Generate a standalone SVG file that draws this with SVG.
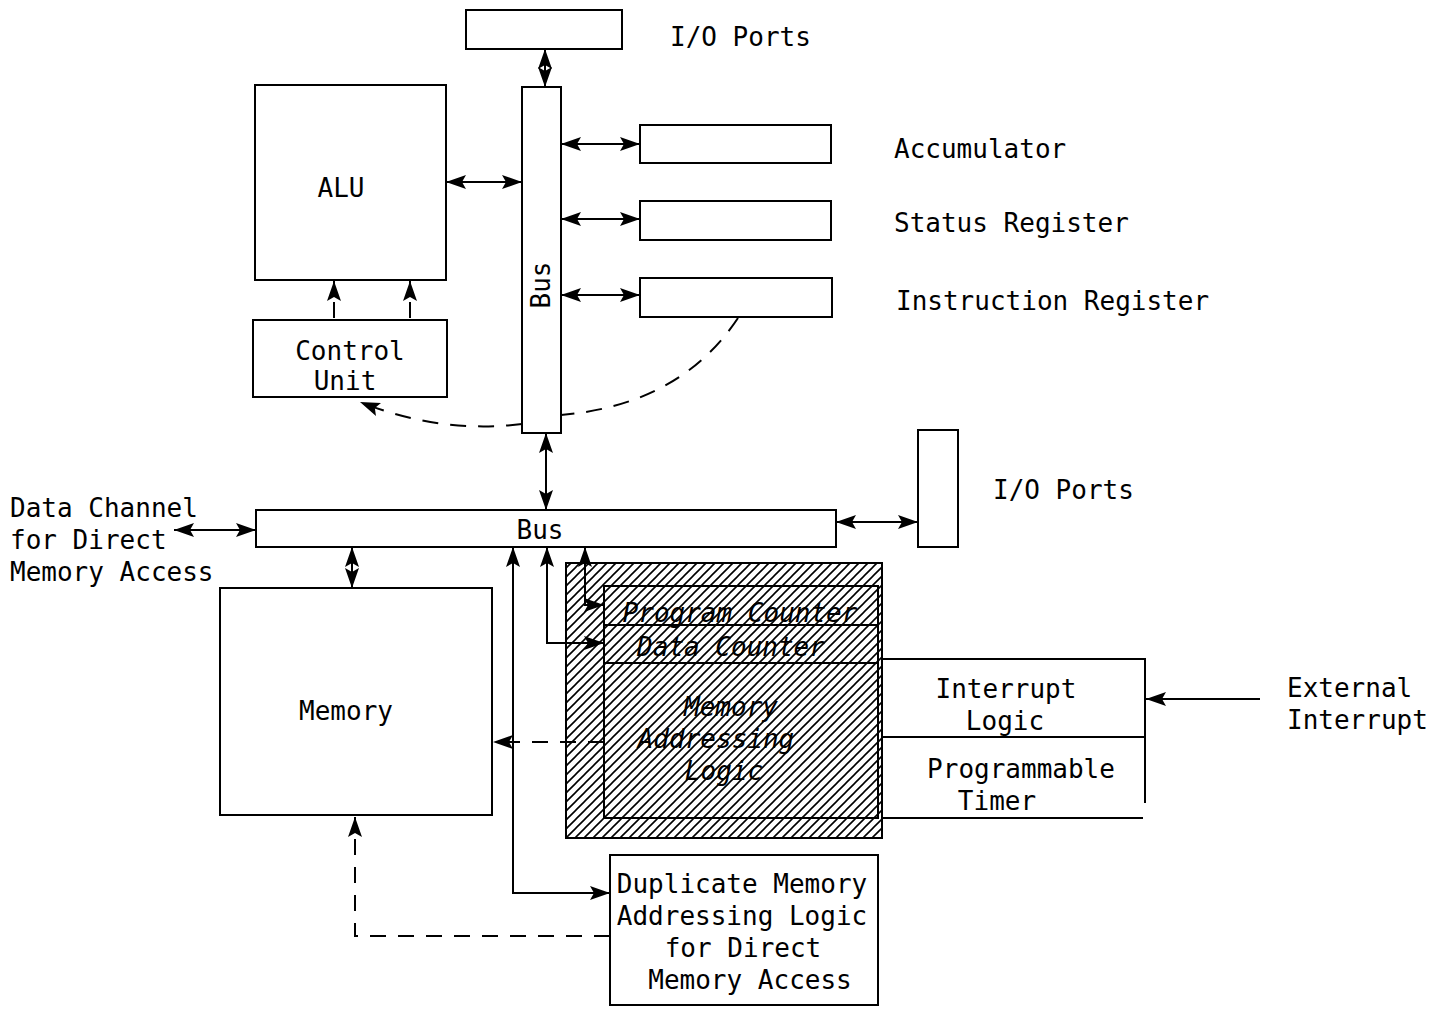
<svg xmlns="http://www.w3.org/2000/svg" width="1443" height="1010" viewBox="0 0 1443 1010">
<style>
.box{fill:#fff;stroke:#000;stroke-width:2}
.ln{fill:none;stroke:#000;stroke-width:2}
.dash{fill:none;stroke:#000;stroke-width:2;stroke-dasharray:16 12}
text{font-family:"DejaVu Sans Mono","Liberation Mono",monospace;font-size:26px;fill:#000}
.c{text-anchor:middle}
</style>
<defs>
<marker id="ah" viewBox="0 0 20 14" refX="20" refY="7" markerWidth="20" markerHeight="14" markerUnits="userSpaceOnUse" orient="auto-start-reverse"><path d="M0,0 L20,7 L0,14 L4,7 z" fill="#000"/></marker>
<pattern id="hatch" patternUnits="userSpaceOnUse" width="9" height="9"><path d="M-1,1 L1,-1 M0,9 L9,0 M8,10 L10,8" stroke="#000" stroke-width="1.6"/></pattern>
</defs>

<g id="io-top"><rect class="box" x="466" y="10" width="156" height="39"/><text x="670" y="46">I/O Ports</text></g>
<g id="alu"><rect class="box" x="255" y="85" width="191" height="195"/><text class="c" x="341" y="197">ALU</text></g>
<g id="control-unit"><rect class="box" x="253" y="320" width="194" height="77"/><text class="c" x="350" y="360">Control</text><text class="c" x="345" y="390">Unit</text></g>
<g id="accumulator"><rect class="box" x="640" y="125" width="191" height="38"/><text x="894" y="158">Accumulator</text></g>
<g id="status-register"><rect class="box" x="640" y="201" width="191" height="39"/><text x="894" y="232">Status Register</text></g>
<g id="instruction-register"><rect class="box" x="640" y="278" width="192" height="39"/><text x="896" y="310">Instruction Register</text></g>

<g id="connectors">
<line class="ln" x1="545" y1="49" x2="545" y2="87" marker-start="url(#ah)" marker-end="url(#ah)"/>
<line class="ln" x1="446" y1="182" x2="522" y2="182" marker-start="url(#ah)" marker-end="url(#ah)"/>
<line class="ln" x1="561" y1="144" x2="640" y2="144" marker-start="url(#ah)" marker-end="url(#ah)"/>
<line class="ln" x1="561" y1="219" x2="640" y2="219" marker-start="url(#ah)" marker-end="url(#ah)"/>
<line class="ln" x1="561" y1="295" x2="640" y2="295" marker-start="url(#ah)" marker-end="url(#ah)"/>
<line class="dash" x1="334" y1="318" x2="334" y2="281" stroke-dasharray="10 8" marker-end="url(#ah)"/>
<line class="dash" x1="410" y1="318" x2="410" y2="281" stroke-dasharray="10 8" marker-end="url(#ah)"/>
<path class="dash" d="M738,318 Q680,405 561,415"/>
<path class="dash" d="M522,424 Q440,434 360,402" marker-end="url(#ah)"/>
<line class="ln" x1="546" y1="433" x2="546" y2="510" marker-start="url(#ah)" marker-end="url(#ah)"/>
<line class="ln" x1="836" y1="522" x2="918" y2="522" marker-start="url(#ah)" marker-end="url(#ah)"/>
<line class="ln" x1="174" y1="530" x2="256" y2="530" marker-start="url(#ah)" marker-end="url(#ah)"/>
<line class="ln" x1="352" y1="547" x2="352" y2="588" marker-start="url(#ah)" marker-end="url(#ah)"/>
<polyline class="ln" points="513,547 513,893 610,893" marker-start="url(#ah)" marker-end="url(#ah)"/>
<polyline class="ln" points="547,547 547,643 604,643" marker-start="url(#ah)" marker-end="url(#ah)"/>
<polyline class="ln" points="585,547 585,605 604,605" marker-start="url(#ah)" marker-end="url(#ah)"/>
<line class="dash" x1="604" y1="742" x2="493" y2="742" marker-end="url(#ah)"/>
<line class="ln" x1="1260" y1="699" x2="1146" y2="699" marker-end="url(#ah)"/>
<polyline class="dash" points="610,936 355,936 355,817" marker-end="url(#ah)"/>
</g>

<g id="bus-upper"><rect class="box" x="522" y="87" width="39" height="346"/><text class="c" transform="translate(550,285) rotate(-90)">Bus</text></g>
<g id="bus-lower"><rect class="box" x="256" y="510" width="580" height="37"/><text class="c" x="540" y="539">Bus</text></g>
<g id="io-right"><rect class="box" x="918" y="430" width="40" height="117"/><text x="993" y="499">I/O Ports</text></g>
<g id="data-channel"><text x="10" y="517">Data Channel</text><text x="10" y="549">for Direct</text><text x="10" y="581">Memory Access</text></g>
<g id="memory"><rect class="box" x="220" y="588" width="272" height="227"/><text class="c" x="346" y="720">Memory</text></g>

<g id="addressing-block">
<rect x="566" y="563" width="316" height="275" fill="url(#hatch)" stroke="#000" stroke-width="2"/>
<rect class="ln" x="604" y="586" width="274" height="232"/>
<line class="ln" x1="604" y1="625" x2="878" y2="625"/>
<line class="ln" x1="604" y1="663" x2="878" y2="663"/>
<text class="c" x="740" y="622" font-style="italic">Program Counter</text>
<text class="c" x="731" y="656" font-style="italic">Data Counter</text>
<text class="c" x="731" y="716" font-style="italic">Memory</text>
<text class="c" x="716" y="748" font-style="italic">Addressing</text>
<text class="c" x="724" y="780" font-style="italic">Logic</text>
</g>

<g id="interrupt-logic">
<polyline class="ln" points="882,659 1145,659 1145,803"/>
<line class="ln" x1="882" y1="737" x2="1145" y2="737"/>
<line class="ln" x1="882" y1="818" x2="1143" y2="818"/>
<text class="c" x="1006" y="698">Interrupt</text><text class="c" x="1005" y="730">Logic</text>
<text class="c" x="1021" y="778">Programmable</text><text class="c" x="997" y="810">Timer</text>
</g>
<g id="external-interrupt"><text x="1287" y="697">External</text><text x="1287" y="729">Interrupt</text></g>
<g id="duplicate"><rect class="box" x="610" y="855" width="268" height="150"/>
<text class="c" x="742" y="893">Duplicate Memory</text><text class="c" x="742" y="925">Addressing Logic</text><text class="c" x="743" y="957">for Direct</text><text class="c" x="750" y="989">Memory Access</text></g>
</svg>
